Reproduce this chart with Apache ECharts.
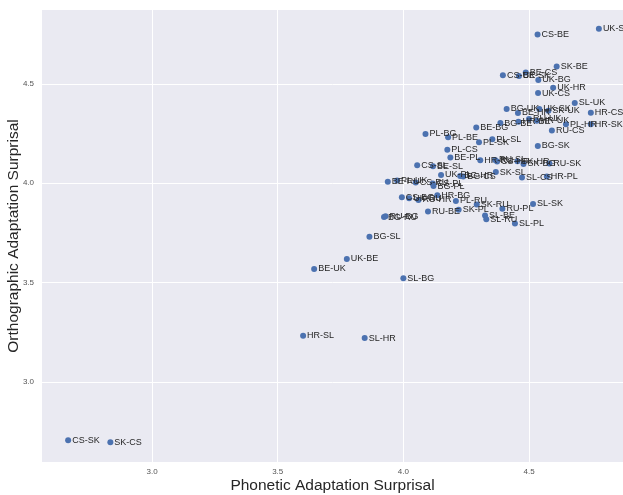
<!DOCTYPE html>
<html>
<head>
<meta charset="utf-8">
<script src="https://cdn.jsdelivr.net/npm/echarts@6/dist/echarts.min.js"></script>
<style>
  html, body { margin: 0; padding: 0; background: #fff; }
  #chart { width: 623px; height: 495px; }
</style>
</head>
<body>
<div id="chart"></div>
<script>
// language pairs (source-target)
const pairs = [
  'UK-SL', 'CS-BE', 'SK-BE', 'CS-UK', 'BE-SK', 'BE-CS', 'UK-BG', 'UK-HR', 'UK-CS', 'SL-UK',
  'BG-UK', 'UK-SK', 'SK-UK', 'HR-CS', 'BE-HR', 'BG-BE', 'HR-BE', 'RU-UK', 'HR-UK', 'PL-HR',
  'HR-SK', 'RU-CS', 'BE-BG', 'PL-BG', 'PL-BE', 'PL-SL', 'PL-SK', 'BG-SK', 'PL-CS', 'BE-PL',
  'HR-RU', 'RU-SL', 'CS-HR', 'SK-HR', 'SK-BG', 'RU-SK', 'CS-SL', 'BE-SL', 'SK-SL', 'UK-PL',
  'BG-HR', 'BG-CS', 'SL-CS', 'HR-PL', 'BE-RU', 'PL-UK', 'CS-RU', 'CS-PL', 'BG-PL', 'CS-BG',
  'UK-RU', 'RU-HR', 'HR-BG', 'PL-RU', 'SK-RU', 'RU-PL', 'SL-SK', 'RU-BE', 'SK-PL', 'SL-BE',
  'SL-RU', 'SL-PL', 'BG-RU', 'RU-BG', 'BG-SL', 'UK-BE', 'BE-UK', 'SL-BG', 'HR-SL', 'SL-HR',
  'CS-SK', 'SK-CS'
]
// x: phonetic adaptation surprisal
const phonetic = [
  4.778, 4.534, 4.610, 4.396, 4.460, 4.487, 4.537, 4.596, 4.536, 4.682,
  4.411, 4.541, 4.577, 4.746, 4.456, 4.386, 4.458, 4.500, 4.531, 4.647,
  4.746, 4.591, 4.290, 4.088, 4.178, 4.354, 4.301, 4.535, 4.175, 4.187,
  4.306, 4.365, 4.373, 4.454, 4.478, 4.581, 4.055, 4.118, 4.368, 4.150,
  4.226, 4.238, 4.472, 4.571, 3.938, 3.975, 4.049, 4.117, 4.120, 3.994,
  4.023, 4.060, 4.135, 4.209, 4.292, 4.394, 4.516, 4.098, 4.220, 4.325,
  4.330, 4.444, 3.923, 3.929, 3.865, 3.775, 3.645, 4.000, 3.601, 3.846,
  2.666, 2.834
]
// y: orthographic adaptation surprisal
const orthographic = [
  4.777, 4.749, 4.587, 4.544, 4.540, 4.557, 4.520, 4.481, 4.454, 4.404,
  4.374, 4.374, 4.365, 4.355, 4.354, 4.303, 4.310, 4.324, 4.314, 4.297,
  4.297, 4.265, 4.280, 4.248, 4.232, 4.221, 4.206, 4.188, 4.169, 4.129,
  4.116, 4.117, 4.109, 4.111, 4.097, 4.099, 4.090, 4.085, 4.056, 4.042,
  4.037, 4.034, 4.029, 4.034, 4.007, 4.014, 4.004, 3.999, 3.986, 3.929,
  3.924, 3.916, 3.939, 3.911, 3.893, 3.872, 3.896, 3.858, 3.866, 3.838,
  3.819, 3.797, 3.830, 3.834, 3.731, 3.619, 3.569, 3.522, 3.232, 3.221,
  2.707, 2.697
]
const xTicks = [3.0, 3.5, 4.0, 4.5]
const yTicks = [3.0, 3.5, 4.0, 4.5]

const chart = echarts.init(document.getElementById('chart'))

const points = pairs.map((p, i) => [phonetic[i], orthographic[i], p])

const option = {
  backgroundColor: '#ffffff',
  animation: false,
  grid: {
    left: 42,
    right: 0,
    top: 10,
    bottom: 33,
    show: true,
    backgroundColor: '#EAEAF2',
    borderWidth: 0,
    outerBoundsMode: 'none',
  },
  xAxis: {
    type: 'value',
    min: 2.562,
    max: 4.874,
    name: 'Phonetic Adaptation Surprisal',
    nameLocation: 'middle',
    nameGap: 16,
    nameMoveOverlap: false,
    nameTextStyle: {
      fontFamily: 'Liberation Sans',
      fontSize: 15.5,
      color: '#262626',
    },
    axisLine: { show: false },
    axisTick: { show: false, customValues: xTicks },
    axisLabel: {
      customValues: xTicks,
      formatter: (v) => v.toFixed(1),
      fontFamily: 'Liberation Sans',
      fontSize: 8,
      color: '#555',
      margin: 6,
    },
    splitLine: {
      show: true,
      lineStyle: { color: '#ffffff', width: 1 },
    },
  },
  yAxis: {
    type: 'value',
    min: 2.597,
    max: 4.872,
    name: 'Orthographic Adaptation Surprisal',
    nameLocation: 'middle',
    nameGap: 20,
    nameMoveOverlap: false,
    nameRotate: 90,
    nameTextStyle: {
      fontFamily: 'Liberation Sans',
      fontSize: 15.5,
      color: '#262626',
    },
    axisLine: { show: false },
    axisTick: { show: false, customValues: yTicks },
    axisLabel: {
      customValues: yTicks,
      formatter: (v) => v.toFixed(1),
      fontFamily: 'Liberation Sans',
      fontSize: 8,
      color: '#555',
      margin: 8,
    },
    splitLine: {
      show: true,
      lineStyle: { color: '#ffffff', width: 1 },
    },
  },
  series: [
    {
      type: 'scatter',
      data: points,
      symbol: 'circle',
      symbolSize: 6,
      itemStyle: { color: '#4C72B0', opacity: 1 },
      label: {
        show: true,
        position: 'right',
        distance: 1,
        formatter: (p) => p.data[2],
        fontFamily: 'Liberation Sans',
        fontSize: 9,
        color: '#262626',
      },
      labelLayout: { hideOverlap: false },
    },
  ],
}

chart.setOption(option)
</script>
</body>
</html>
